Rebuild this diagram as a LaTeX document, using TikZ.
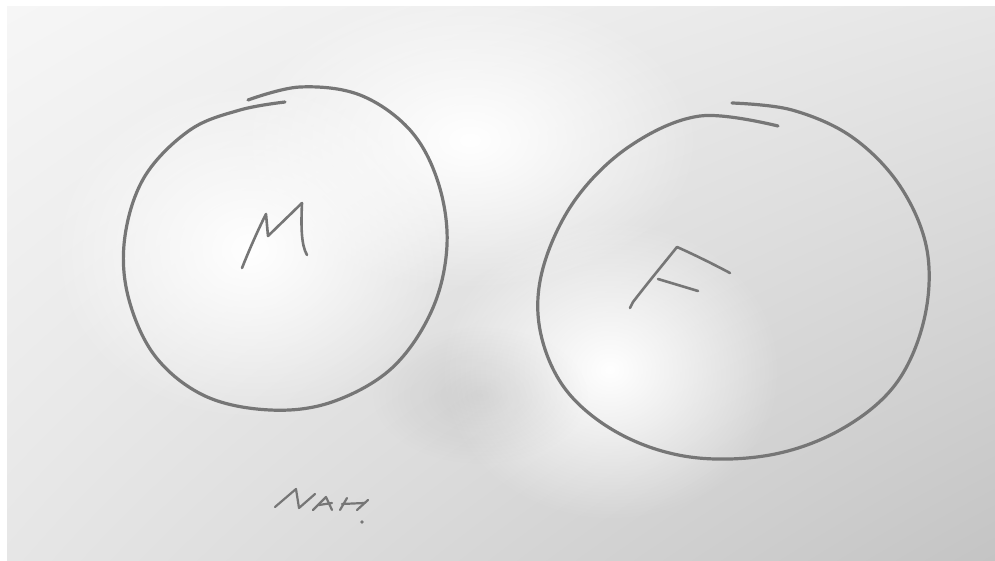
\documentclass[tikz,border=0pt]{standalone}
\usetikzlibrary{fadings,shadings}
\definecolor{inkgray}{RGB}{118,118,118}
\definecolor{paperlight}{RGB}{246,246,246}
\definecolor{papermid}{RGB}{230,230,230}
\definecolor{paperdark}{RGB}{196,196,196}
\tikzfading[name=softglow, inner color=transparent!0, outer color=transparent!100]
\begin{document}
\begin{tikzpicture}[x=1pt,y=-1pt,
  pen/.style={draw=inkgray, line width=3.2pt, line cap=round, line join=round},
  letter/.style={draw=inkgray, line width=2.6pt, line cap=round, line join=round}]
\useasboundingbox (0,0) rectangle (995,561);
\fill[white] (0,0) rectangle (995,561);
% paper with lighting gradient
\shade[upper left=paperlight, upper right=papermid, lower left=papermid, lower right=paperdark] (7,7) rectangle (995,561);
% bright spots of light
\fill[white, path fading=softglow] (610,370) ellipse (170 and 150);
\fill[white, path fading=softglow] (470,140) ellipse (230 and 150);
\fill[white, path fading=softglow] (250,250) ellipse (200 and 170);
% soft shadow
\fill[black, opacity=0.07, path fading=softglow] (480,395) ellipse (110 and 70);
% left circle
\draw[pen] plot[smooth, tension=0.6] coordinates {
 (248,100) (300,87) (360,95) (410,130) (438,182) (447,245) (432,310)
 (392,368) (332,402) (270,410) (205,396) (155,356) (128,296) (125,236)
 (145,176) (190,130) (240,110) (285,102)};
% right circle
\draw[pen] plot[smooth, tension=0.6] coordinates {
 (732,103) (792,110) (852,137) (900,186) (927,250) (924,320) (895,385)
 (840,430) (770,455) (690,457) (620,434) (566,390) (540,330) (543,268)
 (575,200) (630,146) (700,116) (778,126)};
% M
\draw[letter] (242,268) .. controls (250,248) and (258,230) .. (266,214) -- (268,236) -- (302,203);
\draw[letter] (302,203) .. controls (301,225) and (301,245) .. (307,255);
% F
\draw[letter] (630,308) -- (633,302) .. controls (650,280) and (665,262) .. (677,247) .. controls (695,255) and (715,265) .. (730,273);
\draw[letter] (658,279) -- (698,291);
% NAH.
\draw[letter, line width=2.2pt] (275,507) -- (296,489) -- (299,508) -- (315,494);
\draw[letter, line width=2.2pt] (313,510) -- (326,497) -- (332,510);
\draw[letter, line width=2.2pt] (319,505) -- (332,503);
\draw[letter, line width=2.2pt] (340,510) -- (347,498);
\draw[letter, line width=2.2pt] (357,510) -- (368,500);
\draw[letter, line width=2.2pt] (342,504) -- (364,503);
\fill[inkgray] (362,522) circle (1.8);
\end{tikzpicture}
\end{document}
